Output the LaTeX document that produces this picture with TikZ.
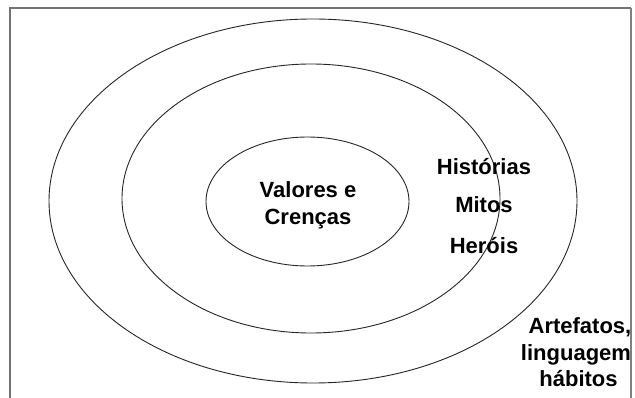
\documentclass[tikz,border=0pt]{standalone}
\usepackage{fontspec}
\setmainfont{Liberation Sans}
\begin{document}
\begin{tikzpicture}[x=1pt,y=-1pt,
  ring/.style={draw=black!85,line width=0.9pt},
  frameline/.style={draw=black!55,line width=1.2pt},
  lbl/.style={font=\fontsize{22}{26}\selectfont\bfseries,inner sep=0pt,anchor=base}]
\useasboundingbox (0,0) rectangle (635,398);
\fill[white] (0,0) rectangle (635,398);
% frame
\coordinate (fbl) at (10,398);
\coordinate (ftl) at (10,8);
\coordinate (ftr) at (631,8);
\coordinate (fbr) at (631,398);
\draw[frameline] (fbl) -- (ftl) -- (ftr);
\draw[frameline,line width=2pt,draw=black!50] (ftr) -- (fbr);
% rings
\draw[ring] (313,201) ellipse [x radius=264, y radius=182];
\draw[ring] (311,198.5) ellipse [x radius=189, y radius=134.5];
\draw[ring] (307.5,201.5) ellipse [x radius=101.5, y radius=64.5];
% texts
\node[lbl] (v1) at (308,198) {Valores e};
\node[lbl] (v2) at (308,225) {Crenças};
\node[lbl] (h1) at (484,174.5) {Histórias};
\node[lbl] (h2) at (484,212.5) {Mitos};
\node[lbl] (h3) at (484,253.5) {Heróis};
\node[lbl] (a1) at (580,334) {Artefatos,};
\node[lbl] (a2) at (576,360) {linguagem};
\node[lbl] (a3) at (578.5,386) {hábitos};
\end{tikzpicture}
\end{document}
